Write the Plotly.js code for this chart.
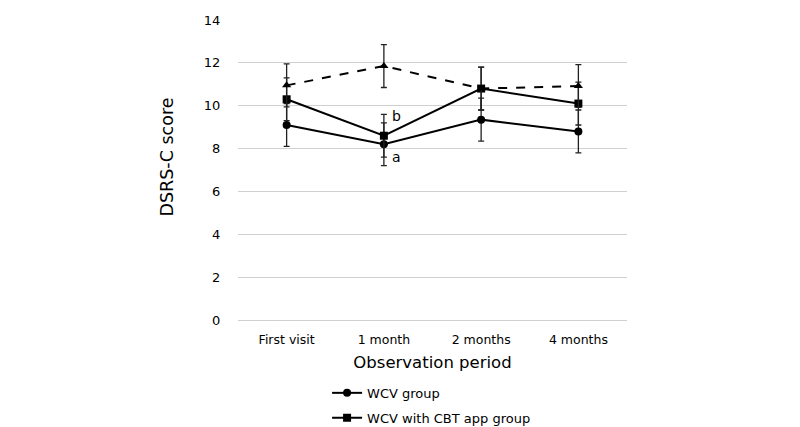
<!DOCTYPE html>
<html>
<head>
<meta charset="utf-8">
<script src="https://cdn.plot.ly/plotly-3.0.1.min.js"></script>
<style>html,body{margin:0;padding:0;background:#fff;}#chart{width:800px;height:427px;}</style>
</head>
<body>
<div id="chart"></div>
<script>
const categories = ["First visit", "1 month", "2 months", "4 months"];
const wcvValues = [9.1, 8.2, 9.35, 8.8];
const wcvErrors = [1.0, 1.0, 1.0, 1.0];
const cbtValues = [10.3, 8.6, 10.8, 10.1];
const cbtErrors = [1.0, 1.0, 1.0, 1.0];
const otherValues = [10.95, 11.85, 10.8, 10.92];
const otherErrors = [1.0, 1.0, 1.0, 1.0];
const yTicks = [0, 2, 4, 6, 8, 10, 12, 14];
const seriesNames = ["WCV group", "WCV with CBT app group"];
const sigLabels = [{cat: "1 month", y: 9.5, text: "b"}, {cat: "1 month", y: 7.6, text: "a"}];
const yTitle = "DSRS-C score";
const xTitle = "Observation period";

const font = "DejaVu Sans, Verdana, sans-serif";
const errStyle = (arr) => ({type: "data", array: arr, visible: true, color: "#222", thickness: 1.3, width: 3});

const traces = [
  {x: categories, y: wcvValues, error_y: errStyle(wcvErrors), type: "scatter", mode: "lines+markers",
   line: {color: "#000", width: 2}, marker: {symbol: "circle", size: 8, color: "#000"}, name: seriesNames[0], legendgroup: "g1"},
  {x: categories, y: cbtValues, error_y: errStyle(cbtErrors), type: "scatter", mode: "lines+markers",
   line: {color: "#000", width: 2}, marker: {symbol: "square", size: 8, color: "#000"}, name: seriesNames[1], legendgroup: "g2"},
  {x: categories, y: otherValues, error_y: errStyle(otherErrors), type: "scatter", mode: "lines+markers",
   line: {color: "#000", width: 2, dash: "dash"}, marker: {symbol: "triangle-up", size: 8, color: "#000"},
   showlegend: false, name: "other", legendgroup: "g3"}
];

const annotations = sigLabels.map(s => ({x: s.cat, y: s.y, xref: "x", yref: "y", text: s.text, showarrow: false,
    xanchor: "left", xshift: 6, font: {size: 14, family: font}}));
annotations.push({x: -0.1825, y: 0.5417, xref: "paper", yref: "paper", text: yTitle, textangle: -90,
    showarrow: false, xanchor: "center", yanchor: "middle", font: {size: 17.5, family: font}});

const layout = {
  width: 800, height: 427,
  margin: {l: 238, r: 173, t: 20, b: 107, autoexpand: false},
  paper_bgcolor: "#fff", plot_bgcolor: "#fff",
  font: {family: font, color: "#000", size: 13},
  showlegend: true,
  legend: {x: 0.229, y: -0.193, xanchor: "left", yanchor: "top",
           traceorder: "grouped", tracegroupgap: 5,
           font: {size: 13, family: font}, bgcolor: "rgba(0,0,0,0)"},
  xaxis: {type: "category", categoryorder: "array", categoryarray: categories, range: [-0.5, 3.5],
          showgrid: false, zeroline: false, showline: false, ticks: "outside", ticklen: 8, tickcolor: "rgba(0,0,0,0)",
          tickfont: {size: 12.5, family: font}, automargin: false,
          title: {text: xTitle, font: {size: 16.5, family: font}, standoff: 10}},
  yaxis: {range: [0, 14], tickvals: yTicks, ticktext: yTicks.map(String), showgrid: true,
          gridcolor: "#d0d0d0", gridwidth: 1, zeroline: true, zerolinecolor: "#d0d0d0", zerolinewidth: 1,
          showline: false, ticks: "outside", ticklen: 14, tickcolor: "rgba(0,0,0,0)", tickfont: {size: 13, family: font},
          automargin: false},
  annotations: annotations
};

Plotly.newPlot("chart", traces, layout, {displayModeBar: false, staticPlot: true});
</script>
</body>
</html>
